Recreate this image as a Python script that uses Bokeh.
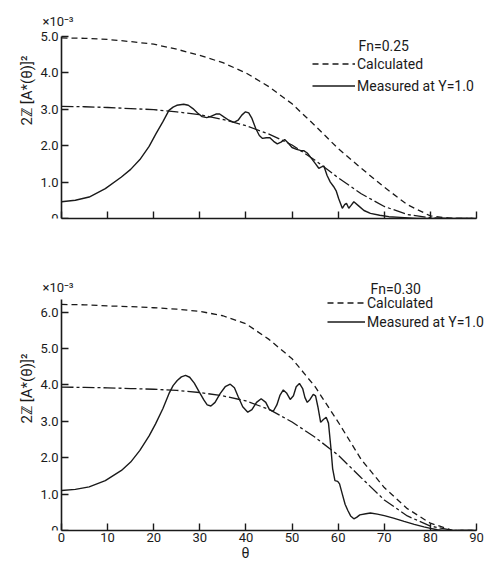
import math
from bokeh.plotting import figure
from bokeh.models import Range1d, FixedTicker, Label, Legend, LegendItem
from bokeh.layouts import column
from bokeh.embed import file_html
from bokeh.resources import INLINE

# ---------------- data ----------------
x_ticks = [0, 10, 20, 30, 40, 50, 60, 70, 80, 90]
x_tick_labels = ["0", "10", "20", "30", "40", "50", "60", "70", "80", "90"]

# Fn = 0.25 panel
y_ticks_025 = [0, 1, 2, 3, 4, 5]
y_tick_labels_025 = ["0", "1.0", "2.0", "3.0", "4.0", "5.0"]
theta_calc = [0, 5, 10, 15, 20, 25, 30, 35, 40, 45, 50, 55, 60, 65, 70, 75, 80, 85, 90]
calc_dashed_025 = [4.96, 4.95, 4.92, 4.86, 4.79, 4.65, 4.48, 4.28, 4.00, 3.62, 3.15, 2.55,
                   1.92, 1.38, 0.86, 0.38, 0.07, 0.0, 0.0]
calc_dashdot_025 = [3.08, 3.07, 3.05, 3.02, 2.99, 2.93, 2.85, 2.72, 2.55, 2.32, 2.02, 1.60,
                    1.12, 0.68, 0.33, 0.11, 0.02, 0.0, 0.0]
theta_meas_025 = [0, 3, 6, 9.5, 13, 15, 17, 19, 20.5, 22, 23.3, 24.2, 25, 26.5, 27.5, 28.5,
                  29.5, 30.5, 31.5, 32.5, 33.5, 34.3, 35.2, 36.3, 37.4, 38.3, 39.1, 39.9,
                  40.6, 41.3, 42.1, 42.9, 43.6, 44.4, 45.2, 46, 46.8, 47.6, 48.4, 49.1, 50,
                  51, 51.8, 52.6, 53.3, 54.2, 55.1, 55.8, 56.4, 56.9, 57.6, 58.3, 59, 59.6,
                  60.1, 60.9, 61.4, 61.8, 62.3, 62.8, 63.4, 64.5, 65.6, 67, 69, 71, 73.5, 77,
                  90]
meas_025 = [0.46, 0.50, 0.59, 0.82, 1.14, 1.35, 1.62, 1.98, 2.33, 2.66, 2.97, 3.06, 3.11,
            3.14, 3.11, 3.02, 2.90, 2.80, 2.77, 2.81, 2.87, 2.87, 2.79, 2.70, 2.64, 2.70,
            2.84, 2.93, 2.90, 2.75, 2.48, 2.28, 2.20, 2.22, 2.22, 2.12, 2.05, 2.10, 2.17,
            2.08, 1.95, 1.90, 1.87, 1.86, 1.80, 1.65, 1.50, 1.38, 1.42, 1.44, 1.18, 1.00,
            0.88, 0.75, 0.55, 0.28, 0.38, 0.42, 0.28, 0.36, 0.46, 0.34, 0.22, 0.14, 0.09,
            0.05, 0.03, 0.0, 0.0]

# Fn = 0.30 panel
y_ticks_030 = [0, 1, 2, 3, 4, 5, 6]
y_tick_labels_030 = ["0", "1.0", "2.0", "3.0", "4.0", "5.0", "6.0"]
calc_dashed_030 = [6.21, 6.20, 6.17, 6.15, 6.12, 6.08, 6.02, 5.90, 5.68, 5.25, 4.72, 3.95,
                   2.98, 1.95, 1.18, 0.60, 0.20, 0.0, 0.0]
calc_dashdot_030 = [3.94, 3.93, 3.92, 3.90, 3.88, 3.85, 3.79, 3.70, 3.56, 3.33, 2.98, 2.56,
                    2.07, 1.45, 0.84, 0.40, 0.12, 0.0, 0.0]
theta_meas_030 = [0, 3, 6, 9.5, 13, 15, 17, 19, 20.4, 22, 23.3, 24.2, 25.1, 26, 26.9, 27.8,
                  28.8, 29.8, 30.9, 31.6, 32.4, 33.3, 34.4, 35.5, 36.6, 37.5, 38.3, 39.3,
                  40.4, 41.3, 42.3, 43.3, 44.3, 45.1, 45.9, 46.7, 47.4, 48.1, 48.8, 49.6,
                  50.3, 50.9, 51.6, 52.3, 52.8, 53.3, 53.9, 54.6, 55.1, 55.6, 56.2, 56.8,
                  57.4, 57.9, 58.4, 58.8, 59.3, 59.9, 60.3, 60.9, 61.5, 62.1, 62.7, 63.4,
                  64.0, 64.7, 66, 67, 68.5, 70, 72, 74.3, 76.5, 78.6, 80, 81.5, 83, 90]
meas_030 = [1.10, 1.13, 1.20, 1.37, 1.65, 1.88, 2.20, 2.60, 2.93, 3.35, 3.76, 3.98, 4.12,
            4.22, 4.26, 4.21, 4.05, 3.82, 3.58, 3.45, 3.42, 3.52, 3.76, 3.95, 4.02, 3.92,
            3.68, 3.40, 3.25, 3.32, 3.52, 3.62, 3.52, 3.32, 3.27, 3.45, 3.72, 3.86, 3.78,
            3.60, 3.70, 3.95, 4.04, 3.90, 3.65, 3.52, 3.60, 3.74, 3.70, 3.40, 2.97, 3.05,
            3.11, 2.95, 2.30, 1.70, 1.37, 1.35, 1.28, 1.00, 0.72, 0.55, 0.40, 0.32, 0.36,
            0.43, 0.46, 0.48, 0.45, 0.41, 0.34, 0.25, 0.17, 0.10, 0.06, 0.02, 0.0, 0.0]

y_label_text = "2ℤ [A*(θ)]²"
scale_text = "×10⁻³"
series_calc = "Calculated"
series_meas = "Measured at Y=1.0"
fn_025 = "Fn=0.25"
fn_030 = "Fn=0.30"

FONT = "Roboto"
INK = "#1a1a1a"
PX_PER_DEG = 415 / 90.0
PX_PER_UNIT = 36.4
FIG_W = 490
BORDER_L = 4
BORDER_R = 4


def make_panel(height, top, bottom, frame_h, ymax, yticks, ylabels, show_xlabels):
    frame_w = FIG_W - BORDER_L - BORDER_R
    x0 = -(61 - BORDER_L) / PX_PER_DEG
    x1 = x0 + frame_w / PX_PER_DEG
    p = figure(width=FIG_W, height=height, x_range=Range1d(x0, x1),
               y_range=Range1d(0, frame_h / PX_PER_UNIT),
               output_backend="svg", toolbar_location=None,
               min_border_left=BORDER_L, min_border_right=BORDER_R,
               min_border_top=top, min_border_bottom=bottom)
    p.outline_line_color = None
    p.grid.visible = False
    p.background_fill_color = "white"
    p.border_fill_color = "white"
    for ax in (p.xaxis[0], p.yaxis[0]):
        ax.axis_line_width = 1.6
        ax.axis_line_color = INK
        ax.major_tick_line_color = INK
        ax.major_tick_line_width = 1.4
        ax.major_tick_in = 7
        ax.major_tick_out = 0
        ax.minor_tick_line_color = None
        ax.major_label_text_font = FONT
        ax.major_label_text_font_size = "13px"
        ax.major_label_text_color = INK
    p.xaxis.ticker = FixedTicker(ticks=x_ticks, minor_ticks=[])
    p.xaxis.bounds = (0, 90)
    if show_xlabels:
        p.xaxis.major_label_overrides = dict(zip(x_ticks, x_tick_labels))
    else:
        p.xaxis.major_label_overrides = {t: "" for t in x_ticks}
    p.yaxis.ticker = FixedTicker(ticks=yticks, minor_ticks=[])
    p.yaxis.major_label_overrides = dict(zip(yticks, ylabels))
    p.yaxis.bounds = (0, ymax)
    p.yaxis.fixed_location = 0
    p.yaxis.major_label_standoff = 3
    p.xaxis.major_label_standoff = 2
    return p


def add_curves(p, dashed, dashdot, tm, meas):
    r_d = p.line(theta_calc, dashed, line_color=INK, line_width=1.3, line_dash="6 4")
    p.line(theta_calc, dashdot, line_color=INK, line_width=1.3, line_dash="12 3 3 3")
    r_m = p.line(tm, meas, line_color=INK, line_width=1.4)
    return r_d, r_m


def text_label(p, x, y, text, size, angle=0.0, align="left"):
    p.add_layout(Label(x=x, y=y, text=text, angle=angle, text_font=FONT,
                       text_font_size=size, text_color=INK, text_align=align,
                       text_baseline="middle"))


def th(px):   # page x -> theta
    return (px - 61) / PX_PER_DEG


# ---- top panel: frame from page y=2 to y=218 ----
p1 = make_panel(240, 2, 22, 216, 5.0, y_ticks_025, y_tick_labels_025, False)
d1, m1 = add_curves(p1, calc_dashed_025, calc_dashdot_025, theta_meas_025, meas_025)
leg1 = Legend(items=[LegendItem(label=series_calc, renderers=[d1]),
                     LegendItem(label=series_meas, renderers=[m1])],
              location=(308, 123), padding=0, margin=0, border_line_color=None,
              background_fill_alpha=0, glyph_width=43, glyph_height=19, label_height=19,
              spacing=3, label_standoff=2, label_text_font=FONT,
              label_text_font_size="14px", label_text_color=INK)
p1.add_layout(leg1)
top_v = lambda py: (218 - py) / PX_PER_UNIT
text_label(p1, th(358), top_v(45), fn_025, "14px")
text_label(p1, th(42), top_v(21), scale_text, "13px")
text_label(p1, th(26), top_v(90), y_label_text, "15px", angle=math.pi / 2, align="center")

# ---- bottom panel: figure starts at page y=240, frame from 242 to 530 ----
p2 = make_panel(323, 2, 33, 288, 6.35, y_ticks_030, y_tick_labels_030, True)
p2.xaxis.axis_label = "θ"
p2.xaxis.axis_label_text_font = FONT
p2.xaxis.axis_label_text_font_style = "normal"
p2.xaxis.axis_label_text_font_size = "14px"
p2.xaxis.axis_label_standoff = 0
p2.xaxis.axis_label_text_color = INK
d2, m2 = add_curves(p2, calc_dashed_030, calc_dashdot_030, theta_meas_030, meas_030)
leg2 = Legend(items=[LegendItem(label=series_calc, renderers=[d2]),
                     LegendItem(label=series_meas, renderers=[m2])],
              location=(323, 200), padding=0, margin=0, border_line_color=None,
              background_fill_alpha=0, glyph_width=38, glyph_height=17, label_height=17,
              spacing=2, label_standoff=2, label_text_font=FONT,
              label_text_font_size="14px", label_text_color=INK)
p2.add_layout(leg2)
bot_v = lambda py: (530 - py) / PX_PER_UNIT
text_label(p2, th(370), bot_v(288), fn_030, "14px")
text_label(p2, th(42), bot_v(287), scale_text, "13px")
text_label(p2, th(26), bot_v(388), y_label_text, "15px", angle=math.pi / 2, align="center")

layout = column(p1, p2, spacing=0)
open("out.html", "w").write(file_html(layout, INLINE))
